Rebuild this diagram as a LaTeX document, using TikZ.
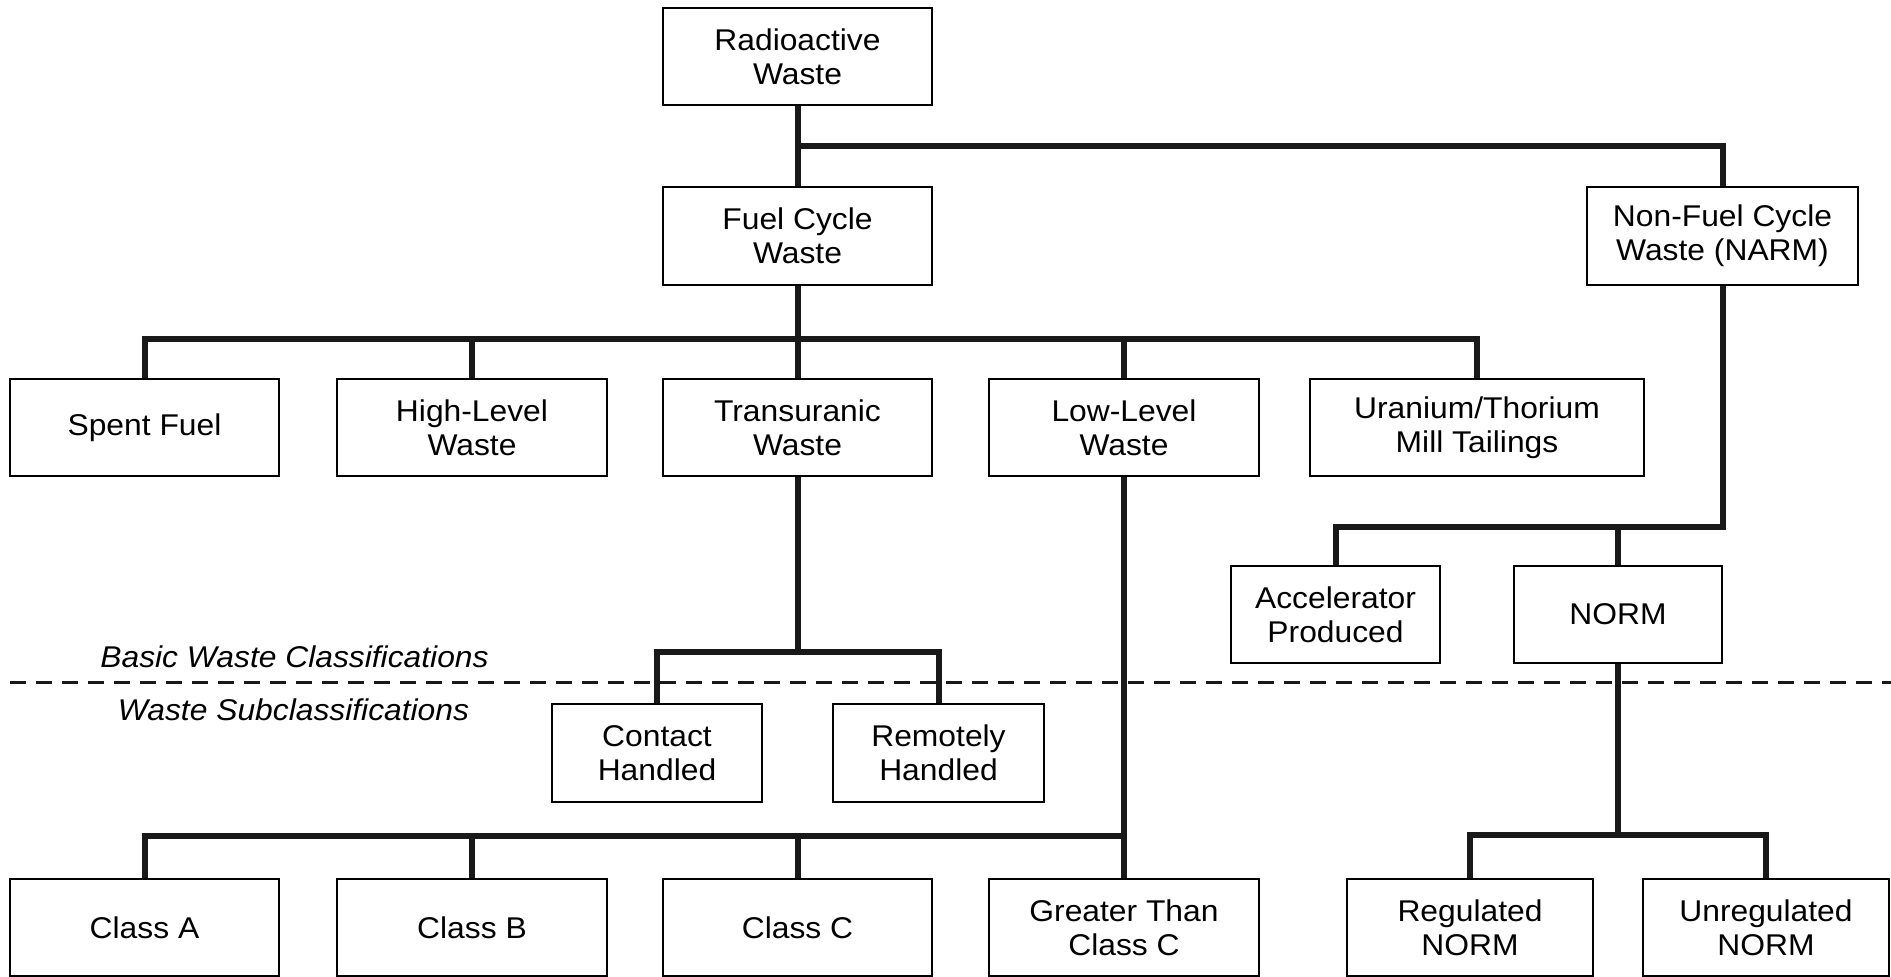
\documentclass[tikz,border=0pt]{standalone}
\usepackage{fontspec}
\setmainfont{Liberation Sans}[FakeStretch=1.06]
\begin{document}
\begin{tikzpicture}[x=0.5pt,y=-0.5pt,
  box/.style={draw=black, line width=1pt, fill=white, align=center, inner sep=0pt,
    minimum height=48.5pt, font=\fontsize{15}{17}\selectfont},
  conn/.style={draw=black!90, line width=3pt, line join=miter, line cap=butt},
  lbl/.style={font=\fontsize{15}{17}\selectfont\itshape, inner sep=0pt}]
\useasboundingbox (0,0) rectangle (1891,977);
% top
\node[box, minimum width=134.5pt] (rad) at (797.5,56.5) {Radioactive\\Waste};
\node[box, minimum width=134.5pt, minimum height=49pt] (fuel) at (797.5,236) {Fuel Cycle\\Waste};
\node[box, minimum width=135.5pt, minimum height=49pt] (nonfuel) at (1722.5,236) {Non-Fuel Cycle\\Waste (NARM)};
% row 2
\node[box, minimum width=134.5pt] (spent) at (144.5,427.5) {Spent Fuel};
\node[box, minimum width=135pt] (high) at (472,427.5) {High-Level\\Waste};
\node[box, minimum width=134.5pt] (trans) at (797.5,427.5) {Transuranic\\Waste};
\node[box, minimum width=135pt] (low) at (1124,427.5) {Low-Level\\Waste};
\node[box, minimum width=167pt] (uran) at (1477,427.5) {Uranium/Thorium\\Mill Tailings};
% NARM children
\node[box, minimum width=104.5pt] (acc) at (1335.5,614.5) {Accelerator\\Produced};
\node[box, minimum width=104pt] (norm) at (1618,614.5) {NORM};
% TRU children
\node[box, minimum width=105pt, minimum height=49pt] (contact) at (657,753) {Contact\\Handled};
\node[box, minimum width=105.5pt, minimum height=49pt] (remote) at (938.5,753) {Remotely\\Handled};
% bottom row
\node[box, minimum width=134.5pt] (classA) at (144.5,927.5) {Class A};
\node[box, minimum width=135pt] (classB) at (472,927.5) {Class B};
\node[box, minimum width=134.5pt] (classC) at (797.5,927.5) {Class C};
\node[box, minimum width=135pt] (gtcc) at (1124,927.5) {Greater Than\\Class C};
\node[box, minimum width=123pt] (reg) at (1470,927.5) {Regulated\\NORM};
\node[box, minimum width=123pt] (unreg) at (1766,927.5) {Unregulated\\NORM};
% junctions
\coordinate (j1) at (797.5,146);
\coordinate (j2) at (797.5,339);
\coordinate (j3) at (1722.5,527);
\coordinate (j4) at (797.5,652);
\coordinate (j5) at (1124,836);
\coordinate (j6) at (1618,835);
% connectors
\draw[conn] (rad.south) -- (fuel.north);
\draw[conn] (j1) -| (nonfuel.north);
\draw[conn] (fuel.south) -- (trans.north);
\draw[conn] (spent.north) |- (j2) -| (uran.north);
\draw[conn] (high.north) -- (high.north |- j2);
\draw[conn] (low.north) -- (low.north |- j2);
\draw[conn] (nonfuel.south) -- (j3) -| (acc.north);
\draw[conn] (norm.north) -- (norm.north |- j3);
\draw[conn] (trans.south) -- (j4);
\draw[conn] (contact.north) |- (j4) -| (remote.north);
\draw[conn] (low.south) -- (gtcc.north);
\draw[conn] (classA.north) |- (j5);
\draw[conn] (classB.north) -- (classB.north |- j5);
\draw[conn] (classC.north) -- (classC.north |- j5);
\draw[conn] (norm.south) -- (j6);
\draw[conn] (reg.north) |- (j6) -| (unreg.north);
% dashed separator
\coordinate (dl) at (10,683);
\coordinate (dr) at (1891,683);
\draw[black!90, line width=1.5pt, dash pattern=on 8pt off 5pt] (dl) -- (dr);
\node[lbl] (basic) at (294.5,657) {Basic Waste Classifications};
\node[lbl] (sub) at (293.5,710) {Waste Subclassifications};
\end{tikzpicture}
\end{document}
